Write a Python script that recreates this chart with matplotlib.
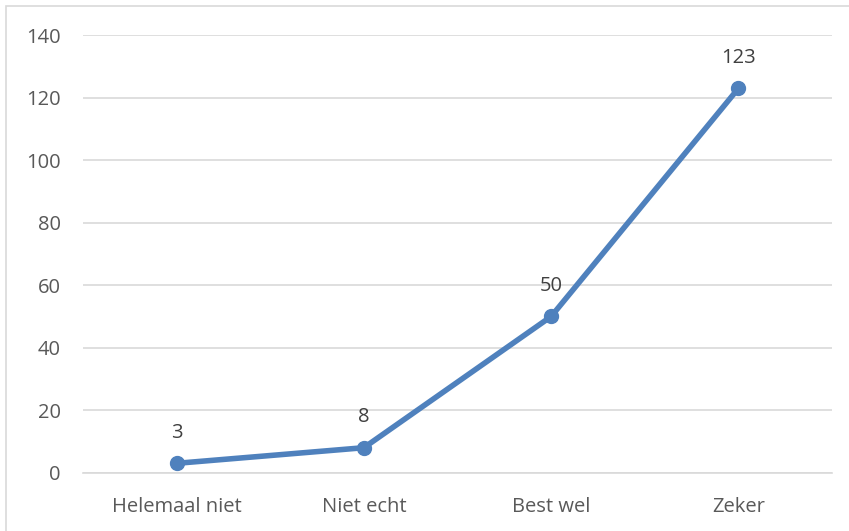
import matplotlib
matplotlib.use("Agg")
import matplotlib.pyplot as plt
from matplotlib.patches import Rectangle

categories = ["Helemaal niet", "Niet echt", "Best wel", "Zeker"]
values = [3, 8, 50, 123]
yticks = [0, 20, 40, 60, 80, 100, 120, 140]

plt.rcParams['font.family'] = ['Open Sans', 'DejaVu Sans']

W, H = 849, 531
fig = plt.figure(figsize=(W / 100, H / 100), dpi=100)
fig.patch.set_facecolor("white")

# outer chart border
fig.patches.append(Rectangle((6 / W, -0.1), 1.2, (H - 6) / H + 0.1, transform=fig.transFigure,
                             fill=False, edgecolor="#D9D9D9", linewidth=1.2))

ax = fig.add_axes([83 / W, 58.3 / H, (832 - 83) / W, (495.7 - 58.3) / H])
x = list(range(len(categories)))
ax.plot(x, values, color="#4F81BD", linewidth=4.0, marker="o", markersize=10,
        solid_capstyle="round", zorder=3)
for xi, v in zip(x, values):
    ax.annotate(str(v), (xi, v), xytext=(0, 22), textcoords="offset points",
                ha="center", va="center", fontsize=14.5, color="#404040")

ax.set_xlim(-0.5, len(categories) - 0.5)
ax.set_ylim(0, 140)
ax.set_yticks(yticks)
ax.set_xticks(x)
ax.set_xticklabels(categories)
ax.grid(axis="y", color="#D9D9D9", linewidth=1.2)
ax.set_axisbelow(True)
for s in ["top", "right", "left"]:
    ax.spines[s].set_visible(False)
ax.spines["bottom"].set_color("#D9D9D9")
ax.spines["bottom"].set_linewidth(1.2)
ax.tick_params(axis="both", length=0, labelsize=14.5, labelcolor="#595959")
ax.tick_params(axis="y", pad=16)
ax.tick_params(axis="x", pad=17.5)

fig.savefig("out.png", dpi=100, facecolor="white")
